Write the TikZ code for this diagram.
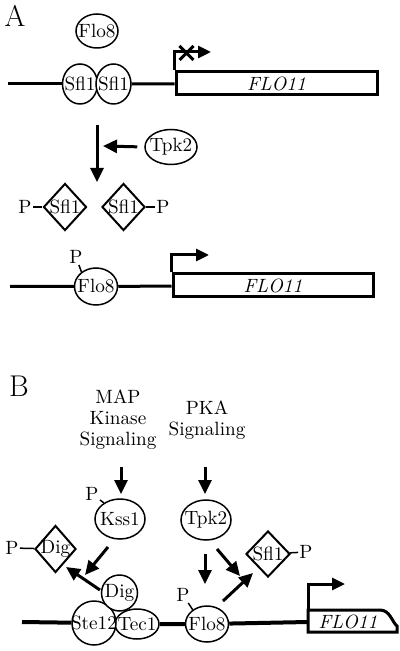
\documentclass[tikz,border=0pt]{standalone}
\usepackage{tikz}
\usetikzlibrary{arrows.meta,shapes,positioning}

\begin{document}
\begin{tikzpicture}[x=0.5pt,y=-0.5pt,
  every node/.style={font=\fontsize{9.6}{10.5}\selectfont},
  prot/.style={ellipse,draw,line width=.75pt,fill=white,inner sep=0pt},
  phos/.style={diamond,draw,line width=1pt,fill=white,inner sep=0pt},
  genebox/.style={rectangle,draw,line width=1.5pt,inner sep=0pt},
  pmark/.style={inner sep=.5pt},
  dna/.style={line width=1.5pt},
  act/.style={line width=1.5pt,-{Triangle[length=7pt,width=6.5pt]}},
  tss/.style={line width=1.5pt,-{Triangle[length=6.5pt,width=6pt]}},
  panel/.style={font=\fontsize{15}{17}\selectfont}]
\useasboundingbox (0,0) rectangle (400,651);
% panel A, repressed promoter
\begin{scope}
\node[panel] (lblA) at (15,16) {A};
\node[prot,minimum width=21pt,minimum height=17pt,label=center:Flo8] (flo8) at (97,31) {};
\node[prot,minimum width=17.5pt,minimum height=20pt,label=center:Sfl1] (sfl1a) at (80,84) {};
\node[prot,minimum width=17.5pt,minimum height=20pt,label=center:Sfl1] (sfl1b) at (113.5,84) {};
\node[genebox,minimum width=100.5pt,minimum height=11.5pt] (geneA) at (276.5,83.5) {\textit{FLO11}};
\coordinate (dnaA) at (8,84);
\coordinate (tssA) at (211,52);
\end{scope}
\begin{scope}
\draw[dna] (dnaA) -- (sfl1a);
\draw[dna] (sfl1b) -- (geneA);
\draw[tss] (geneA.north west) |- (tssA);
\node[cross out,draw,line width=1.5pt,minimum size=5.5pt,inner sep=0pt] (blockA) at (186.5,53) {};
\end{scope}
% panel A, Tpk2 step
\begin{scope}
\node[prot,minimum width=26pt,minimum height=17.5pt,label=center:Tpk2] (tpk2a) at (171,147) {};
\node[phos,minimum width=21.5pt,minimum height=23.5pt,label=center:Sfl1] (sfl1pa) at (65,207) {};
\node[phos,minimum width=21.5pt,minimum height=23.5pt,label=center:Sfl1] (sfl1pb) at (123.5,207) {};
\node[pmark] (pa) at (25,207) {P};
\node[pmark] (pb) at (163,207) {P};
\coordinate (stepTop) at (97,125);
\coordinate (stepEnd) at (97,182);
\coordinate (tpkHit) at (103,146);
\end{scope}
\begin{scope}
\draw[act] (stepTop) -- (stepEnd);
\draw[act,shorten <=3.5pt] (tpk2a.west) -- (tpkHit);
\draw[line width=.75pt] (pa) -- (sfl1pa);
\draw[line width=.75pt] (sfl1pb) -- (pb);
\end{scope}
% panel A, active promoter
\begin{scope}
\node[prot,minimum width=21.5pt,minimum height=18.5pt,label=center:Flo8] (flo8p) at (96,286.5) {};
\node[pmark] (pf) at (76,257) {P};
\node[genebox,minimum width=100pt,minimum height=11.5pt] (geneA2) at (273,285.5) {\textit{FLO11}};
\coordinate (dnaA2) at (10,286.5);
\coordinate (tssA2) at (209,255);
\end{scope}
\begin{scope}
\draw[line width=.75pt] (pf) -- (flo8p.135);
\draw[dna] (dnaA2) -- (flo8p) -- (geneA2);
\draw[tss] (geneA2.north west) |- (tssA2);
\end{scope}
% panel B
\begin{scope}
\node[panel] (lblB) at (19,386) {B};
\node[align=center] (map) at (118,420) {MAP\\Kinase\\Signaling};
\node[align=center] (pka) at (207,420) {PKA\\Signaling};
\node[prot,minimum width=25pt,minimum height=20pt,label=center:Kss1] (kss1) at (120,519) {};
\node[prot,minimum width=25pt,minimum height=20pt,label=center:Tpk2] (tpk2b) at (206,520) {};
\node[pmark] (pk) at (92,494) {P};
\node[phos,minimum width=20.5pt,minimum height=23.5pt,label=center:Dig] (digp) at (55.5,549) {};
\node[pmark] (pd) at (12,548) {P};
\node[phos,minimum width=22pt,minimum height=23pt,label=center:Sfl1] (sfl1p) at (268,554) {};
\node[pmark] (ps) at (306,552) {P};
\node[prot,minimum width=22pt,minimum height=15pt,label=center:Tec1] (tec1) at (137,624) {};
\node[prot,minimum width=22pt,minimum height=22pt,label=center:Ste12] (ste12) at (94,623) {};
\node[prot,minimum width=18pt,minimum height=18pt,label=center:Dig] (dig) at (119.5,593) {};
\node[prot,minimum width=21.5pt,minimum height=18pt,label=center:Flo8] (flo8b) at (207,624) {};
\node[pmark] (pf8) at (183,595) {P};
\node (flo11b) at (348,622) {\textit{FLO11}};
\coordinate (dnaB) at (22,622);
\coordinate (geneBw) at (308,622);
\coordinate (gBnw) at (308,610);
\coordinate (gBsw) at (308,632);
\coordinate (tssB) at (345,584);
\coordinate (mapA) at (121,467);
\coordinate (mapB) at (121,494);
\coordinate (pkaA) at (205,467);
\coordinate (pkaB) at (205,494);
\coordinate (kssA) at (108,547);
\coordinate (kssB) at (85,575);
\coordinate (digA) at (100,590);
\coordinate (digB) at (66,567);
\coordinate (tpkA) at (205,554);
\coordinate (tpkB) at (205,584);
\coordinate (tpkC) at (217,549);
\coordinate (tpkD) at (240,576);
\coordinate (sflA) at (223,601);
\coordinate (sflB) at (253,573);
\end{scope}
\begin{scope}
\draw[dna,line width=2pt] (dnaB) -- (ste12);
\draw[dna,line width=2pt] (tec1) -- (flo8b) -- (geneBw);
\draw[line width=1.5pt] (gBnw) -- (380,610) .. controls (390,610) and (392,622) .. (397,626) -- (397,632) -- (gBsw) -- cycle;
\draw[tss] (gBnw) |- (tssB);
\draw[line width=.75pt] (pk) -- (kss1.135);
\draw[line width=.75pt] (pd) -- (digp);
\draw[line width=.75pt] (sfl1p) -- (ps);
\draw[line width=.75pt] (pf8) -- (flo8b.135);
\draw[act] (mapA) -- (mapB);
\draw[act] (pkaA) -- (pkaB);
\draw[act] (kssA) -- (kssB);
\draw[act] (digA) -- (digB);
\draw[act] (tpkA) -- (tpkB);
\draw[act] (tpkC) -- (tpkD);
\draw[act] (sflA) -- (sflB);
\end{scope}
\end{tikzpicture}
\end{document}
